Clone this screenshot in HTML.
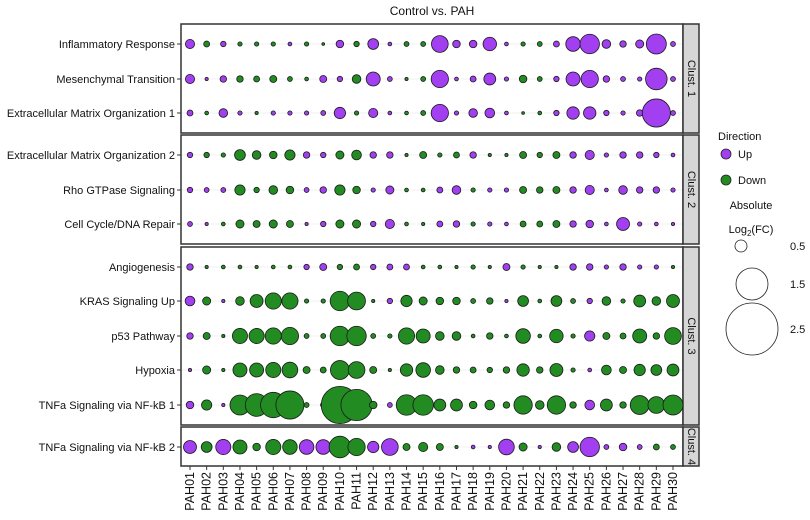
<!DOCTYPE html>
<html><head><meta charset="utf-8">
<style>
html,body{margin:0;padding:0;background:#fff;}
svg{display:block;font-family:"Liberation Sans",Arial,sans-serif;}
</style></head>
<body>
<svg id="chart" width="810" height="520" viewBox="0 0 810 520">
<text x="432" y="15" text-anchor="middle" font-size="12" fill="#111">Control vs. PAH</text>
<g id="panels"></g>
<g id="dots"></g>
<g id="ylabels"></g>
<g id="xlabels"></g>
<g id="legend">
  <text x="718" y="140" font-size="11" fill="#111">Direction</text>
  <circle cx="726" cy="154" r="5" fill="#a23ff0" stroke="#222" stroke-width="0.8"/>
  <text x="738" y="158" font-size="11" fill="#111">Up</text>
  <circle cx="726" cy="180" r="5" fill="#228b22" stroke="#222" stroke-width="0.8"/>
  <text x="738" y="184" font-size="11" fill="#111">Down</text>
  <text x="751" y="209" font-size="11" text-anchor="middle" fill="#111">Absolute</text>
  <text x="751" y="233" font-size="11" text-anchor="middle" fill="#111">Log<tspan font-size="8" dy="3">2</tspan><tspan dy="-3">(FC)</tspan></text>
  <circle cx="741" cy="246" r="6" fill="none" stroke="#222" stroke-width="0.8"/>
  <text x="790" y="250" font-size="11" fill="#111">0.5</text>
  <circle cx="752" cy="284" r="16" fill="none" stroke="#222" stroke-width="0.8"/>
  <text x="790" y="288" font-size="11" fill="#111">1.5</text>
  <circle cx="752" cy="329" r="26" fill="none" stroke="#222" stroke-width="0.8"/>
  <text x="790" y="333" font-size="11" fill="#111">2.5</text>
</g>
</svg>
<script>
const samples = ["PAH01","PAH02","PAH03","PAH04","PAH05","PAH06","PAH07","PAH08","PAH09","PAH10","PAH11","PAH12","PAH13","PAH14","PAH15","PAH16","PAH17","PAH18","PAH19","PAH20","PAH21","PAH22","PAH23","PAH24","PAH25","PAH26","PAH27","PAH28","PAH29","PAH30"];
const pathways = ["Inflammatory Response","Mesenchymal Transition","Extracellular Matrix Organization 1","Extracellular Matrix Organization 2","Rho GTPase Signaling","Cell Cycle/DNA Repair","Angiogenesis","KRAS Signaling Up","p53 Pathway","Hypoxia","TNFa Signaling via NF-kB 1","TNFa Signaling via NF-kB 2"];
const clusters = ["Clust. 1","Clust. 2","Clust. 3","Clust. 4"];
const clusterOfRow = [0,0,0,1,1,1,2,2,2,2,2,3];
// signed log2FC: positive = Up, negative = Down
const fcInflammatory = [0.85,-0.55,0.5,-0.4,-0.4,-0.4,0.35,-0.4,-0.25,0.7,-0.5,1.0,0.35,-0.45,-0.45,1.55,0.7,0.7,1.25,0.35,-0.4,-0.45,0.55,1.35,1.8,0.8,0.6,0.75,1.85,0.45];
const fcMesenchymal = [0.85,0.3,0.6,-0.6,-0.55,-0.65,-0.45,-0.35,0.65,0.5,-0.8,1.3,0.45,-0.3,-0.45,1.6,0.35,0.55,1.1,0.4,-0.7,-0.45,0.5,1.3,1.6,0.6,0.45,0.4,2.0,0.45];
const fcECM1 = [0.55,-0.35,0.8,0.4,-0.3,0.4,0.4,0.4,0.45,1.05,-0.4,0.85,0.35,-0.35,-0.45,1.6,0.4,0.8,0.9,0.35,-0.25,-0.35,0.5,1.15,1.15,0.5,0.4,0.6,2.6,0.45];
const fcECM2 = [0.5,-0.5,-0.4,-1.0,-0.8,-0.7,-0.95,0.6,0.5,-0.75,-0.9,0.6,0.6,-0.3,-0.65,-0.4,-0.55,0.6,-0.3,-0.3,-0.65,-0.5,-0.65,0.6,0.85,0.4,0.6,0.6,0.5,0.35];
const fcRho = [0.5,0.45,0.45,-0.95,-0.5,-0.8,-0.7,0.45,0.6,-0.95,-0.7,0.4,0.75,-0.35,-0.35,0.55,0.8,-0.4,0.4,0.4,-0.65,-0.6,-0.65,0.6,0.85,0.35,0.8,0.6,0.6,0.4];
const fcCellCycle = [0.45,0.3,-0.35,-0.75,-0.65,-0.75,-0.65,0.3,0.5,-0.75,-0.75,0.5,0.85,-0.35,-0.3,0.55,0.6,-0.4,0.4,0.35,-0.55,-0.55,-0.65,0.6,0.7,0.35,1.2,0.4,0.35,0.3];
const fcAngio = [0.6,-0.3,-0.35,-0.35,-0.3,-0.35,-0.35,0.5,0.65,-0.5,-0.55,0.5,0.55,0.55,-0.35,-0.35,-0.3,-0.4,-0.3,0.65,-0.4,-0.3,-0.3,0.6,0.6,0.4,0.6,0.4,0.4,-0.3];
const fcKRAS = [0.9,-0.75,0.3,-0.8,-1.2,-1.5,-1.5,-0.4,-0.4,-1.8,-1.65,-0.3,0.5,-1.05,-0.75,-0.7,-0.7,-0.45,-0.6,0.3,-1.0,-0.35,-1.0,-0.45,0.5,-0.8,-0.4,-1.1,-0.8,-1.2];
const fcP53 = [0.6,-0.65,-0.3,-1.4,-1.4,-1.5,-1.6,-0.45,-0.45,-1.8,-1.8,-0.45,-0.4,-1.5,-1.3,-0.8,-0.8,-0.35,-0.6,-0.35,-1.35,-0.35,-1.25,-0.4,0.95,-0.65,-0.55,-1.3,-0.6,-1.55];
const fcHypoxia = [0.3,-0.75,-0.3,-1.3,-1.3,-1.4,-1.45,-0.65,-0.55,-1.75,-1.55,-0.65,-0.3,-1.15,-1.35,-0.8,-0.6,-0.55,-0.5,-0.6,-1.15,-0.6,-1.2,-0.4,0.35,-0.9,-0.65,-1.05,-1.0,-1.1];
const fcTNF1 = [0.7,-0.95,0.3,-1.85,-2.1,-2.35,-2.6,-0.45,-0.5,-3.45,-2.9,-0.7,0.45,-1.9,-1.9,-1.1,-1.1,-0.7,-0.9,-0.6,-1.7,-0.8,-1.7,-0.6,0.9,-1.1,-0.6,-1.75,-1.55,-1.85];
const fcTNF2 = [1.2,-1.0,1.4,-1.3,-0.7,-1.4,-1.35,1.35,1.35,-2.0,-1.6,1.05,1.55,-0.65,-0.85,-0.65,-0.3,0.35,0.3,1.45,-0.75,0.3,-0.8,1.0,1.8,0.45,0.7,0.45,-0.55,-0.45];
const fcRows = [fcInflammatory,fcMesenchymal,fcECM1,fcECM2,fcRho,fcCellCycle,fcAngio,fcKRAS,fcP53,fcHypoxia,fcTNF1,fcTNF2];

const NS = "http://www.w3.org/2000/svg";
function mk(tag, attrs, parent){ const e=document.createElementNS(NS,tag); for(const k in attrs) e.setAttribute(k,attrs[k]); parent.appendChild(e); return e; }
const rowY = [44,79,113,155,190,224,267,301,336,370,405,447];
const panelBox = [[24,133],[135,244],[247,425],[427,466]];
const xLeft = 181, xRight = 683, stripRight = 699;
function xScale(i){ return 190 + i*(673-190)/29; }
function yScale(r){ return rowY[r]; }
function rScale(v){ return Math.max(1.4, 5.4*Math.abs(v)); }

const panels = document.getElementById('panels');
panelBox.forEach((b,c)=>{
  const p = mk('rect',{x:xLeft,y:b[0],width:xRight-xLeft,height:b[1]-b[0],fill:'#fff',stroke:'#333','stroke-width':1.5},panels);
  
  
  const s = mk('rect',{x:xRight,y:b[0],width:stripRight-xRight,height:b[1]-b[0],fill:'#d6d6d6',stroke:'#333','stroke-width':1.5},panels);
  
  
  const cy=(b[0]+b[1])/2, cx=(xRight+stripRight)/2;
  const t = mk('text',{x:cx,y:cy,'font-size':11,'text-anchor':'middle','dominant-baseline':'central',fill:'#111',transform:`rotate(90 ${cx} ${cy})`},panels);
  t.textContent = clusters[c];
  
  
});
pathways.forEach((p,r)=>{
  const l = mk('line',{x1:xLeft+1,x2:xRight-1,y1:yScale(r),y2:yScale(r),stroke:'#ebebeb','stroke-width':0.8},panels);
  
  
});
const dots = document.getElementById('dots');
fcRows.forEach((row,r)=>{
  row.forEach((v,i)=>{
    const c = mk('circle',{cx:xScale(i),cy:yScale(r),r:rScale(v),fill:v>0?'#a23ff0':'#228b22',stroke:'#1a1a1a','stroke-width':0.8},dots);
    
    
  });
});
const yl = document.getElementById('ylabels');
pathways.forEach((p,r)=>{
  const t = mk('text',{x:175,y:yScale(r)+4,'font-size':11,'text-anchor':'end',fill:'#111'},yl);
  t.textContent = p;
  
  
  const tk = mk('line',{x1:177,x2:181,y1:yScale(r),y2:yScale(r),stroke:'#333','stroke-width':1},yl);
  
  
});
const xl = document.getElementById('xlabels');
samples.forEach((s,i)=>{
  const x = xScale(i);
  const tk = mk('line',{x1:x,x2:x,y1:466,y2:470,stroke:'#333','stroke-width':1},xl);
  
  
  const t = mk('text',{x:x,y:472,'font-size':12.5,'text-anchor':'end','dominant-baseline':'central',fill:'#111',transform:`rotate(-90 ${x} 472)`},xl);
  t.textContent = s;
  
  
});
</script>
</body></html>
